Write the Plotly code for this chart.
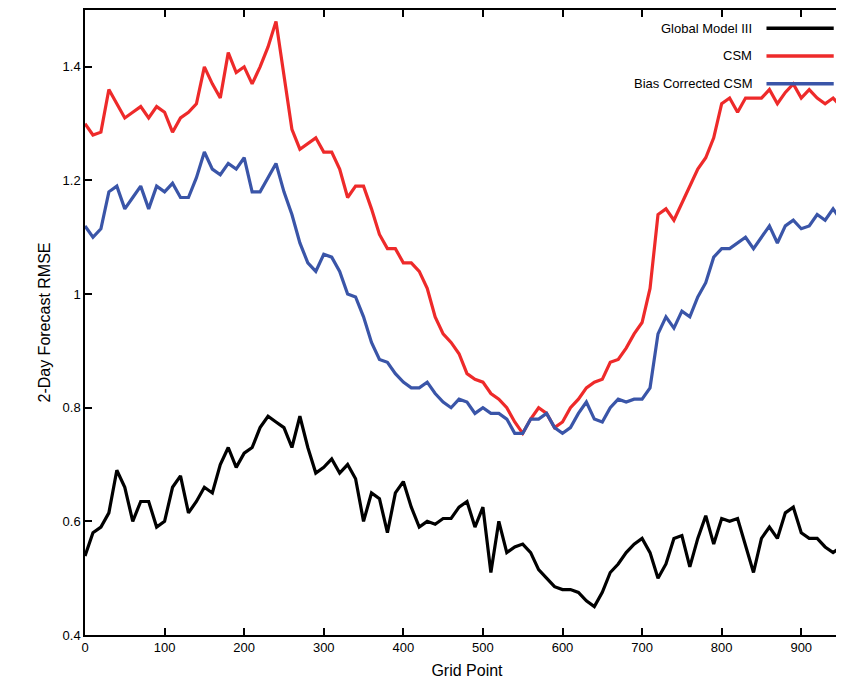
import plotly.graph_objects as go

grid = list(range(0, 961, 10))
gm3 = [0.539,0.58,0.59,0.615,0.69,0.66,0.60,0.635,0.635,0.59,0.60,0.66,0.68,0.615,0.635,0.66,0.65,0.70,0.73,0.695,
       0.72,0.73,0.765,0.785,0.775,0.765,0.73,0.785,0.73,0.685,0.695,0.71,0.685,0.70,0.675,0.60,0.65,0.64,0.58,0.65,
       0.67,0.625,0.59,0.60,0.595,0.605,0.605,0.625,0.635,0.59,0.625,0.51,0.60,0.545,0.555,0.56,0.545,0.515,0.50,0.485,
       0.48,0.48,0.475,0.46,0.45,0.475,0.51,0.525,0.545,0.56,0.57,0.545,0.50,0.525,0.57,0.575,0.52,0.57,0.61,0.56,
       0.605,0.60,0.605,0.555,0.51,0.57,0.59,0.57,0.615,0.625,0.58,0.57,0.57,0.555,0.545,0.555,0.535]
csm = [1.30,1.28,1.285,1.36,1.335,1.31,1.32,1.33,1.31,1.33,1.32,1.285,1.31,1.32,1.335,1.40,1.37,1.345,1.425,1.39,
       1.40,1.37,1.40,1.435,1.48,1.38,1.29,1.255,1.265,1.275,1.25,1.25,1.22,1.17,1.19,1.19,1.15,1.105,1.08,1.08,
       1.055,1.055,1.04,1.01,0.96,0.93,0.915,0.895,0.86,0.85,0.845,0.825,0.815,0.80,0.775,0.755,0.78,0.80,0.79,0.765,
       0.775,0.80,0.815,0.835,0.845,0.85,0.88,0.885,0.905,0.93,0.95,1.01,1.14,1.15,1.13,1.16,1.19,1.22,1.24,1.275,
       1.335,1.345,1.32,1.345,1.345,1.345,1.36,1.335,1.355,1.37,1.345,1.36,1.345,1.335,1.345,1.33,1.335]
bc_csm = [1.12,1.10,1.115,1.18,1.19,1.15,1.17,1.19,1.15,1.19,1.18,1.195,1.17,1.17,1.205,1.25,1.22,1.21,1.23,1.22,
          1.24,1.18,1.18,1.205,1.23,1.18,1.14,1.09,1.055,1.04,1.07,1.065,1.04,1.00,0.995,0.96,0.915,0.885,0.88,0.86,
          0.845,0.835,0.835,0.845,0.825,0.81,0.80,0.815,0.81,0.79,0.80,0.79,0.79,0.78,0.755,0.755,0.78,0.78,0.79,0.765,
          0.755,0.765,0.79,0.81,0.78,0.775,0.80,0.815,0.81,0.815,0.815,0.835,0.93,0.96,0.94,0.97,0.96,0.995,1.02,1.065,
          1.08,1.08,1.09,1.10,1.08,1.10,1.12,1.09,1.12,1.13,1.115,1.12,1.14,1.13,1.15,1.13,1.14]

names = ["Global Model III", "CSM", "Bias Corrected CSM"]
colors = ["#000000", "#ee2a2a", "#3a55a8"]
series = [gm3, csm, bc_csm]

fig = go.Figure()
for n, c, s in zip(names, colors, series):
    fig.add_trace(go.Scatter(x=grid, y=s, mode="lines", name=n, line=dict(color=c, width=3.2), showlegend=False))

for i, (n, c) in enumerate(zip(names, colors)):
    yy = 0.971 - i * 0.0445
    fig.add_annotation(x=0.876, y=yy, xref="paper", yref="paper", text=n, showarrow=False,
                       xanchor="right", yanchor="middle", font=dict(size=13, color="black"))
    fig.add_shape(type="line", xref="paper", yref="paper", x0=0.892, x1=0.98, y0=yy, y1=yy,
                  line=dict(color=c, width=3.5))

axis_common = dict(showgrid=False, zeroline=False, showline=True, linecolor="black", linewidth=1.5,
                   mirror="ticks", ticks="inside", ticklen=7, tickcolor="black", tickwidth=1.5,
                   automargin=False)
fig.update_xaxes(range=[0, 960], tickvals=list(range(0, 901, 100)), title=dict(text="Grid Point", standoff=10), **axis_common)
fig.update_yaxes(range=[0.4, 1.5], tickvals=[0.4, 0.6, 0.8, 1.0, 1.2, 1.4], ticktext=["0.4", "0.6", "0.8", "1", "1.2", "1.4"],
                 title=dict(text="2-Day Forecast RMSE", standoff=8), **axis_common)
fig.update_layout(width=844, height=685, margin=dict(l=77, r=3, t=2, b=58),
                  plot_bgcolor="white", paper_bgcolor="white",
                  font=dict(family="Liberation Sans, Arial, sans-serif", size=13, color="black"))
fig.write_html("out.html")
